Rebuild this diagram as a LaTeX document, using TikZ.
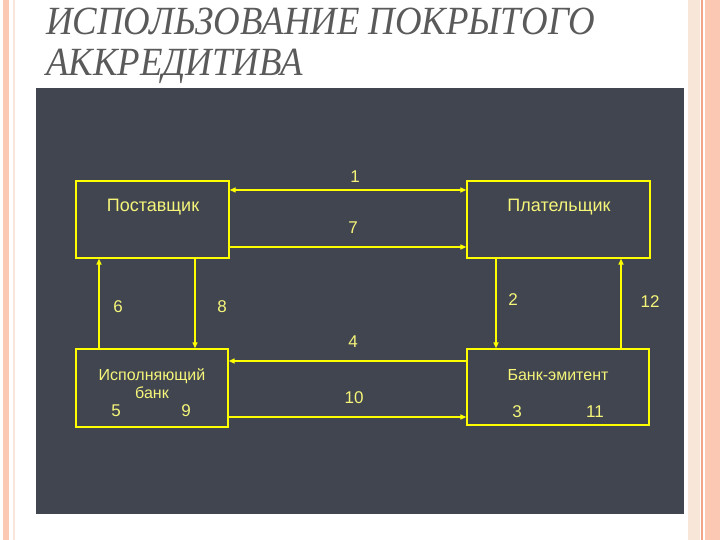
\documentclass[tikz,border=0pt]{standalone}
\usepackage{fontspec}
\setmainfont{Liberation Sans}
\newfontfamily\titlefont{Liberation Serif}
\usetikzlibrary{arrows.meta}
\definecolor{panel}{HTML}{41454F}
\definecolor{ylw}{HTML}{FFFF00}
\definecolor{txt}{HTML}{F5F57A}
\definecolor{pinkb}{HTML}{FBC8B4}
\definecolor{orgl}{HTML}{F4A488}
\definecolor{beig}{HTML}{F8E6D8}
\definecolor{ttl}{HTML}{5A5A5A}
\tikzset{
  box/.style={draw=ylw, line width=1.3pt, minimum width=#1, inner sep=0pt},
  lblbig/.style={text=txt, font=\fontsize{18}{20}\selectfont, inner sep=0pt},
  lbl/.style={text=txt, font=\fontsize{16}{17}\selectfont, inner sep=0pt},
  num/.style={text=txt, font=\fontsize{17}{19}\selectfont, inner sep=0pt},
  arr/.style={draw=ylw, line width=1.2pt, -{Triangle[length=6pt,width=5pt]}},
  arrthick/.style={draw=ylw, line width=2pt, -{Triangle[length=6pt,width=5pt]}},
  ttlst/.style={text=ttl, font=\titlefont\itshape\fontsize{40}{44}\selectfont, anchor=base west, inner sep=0pt}
}
\begin{document}
\begin{tikzpicture}[x=1pt,y=-1pt]
\useasboundingbox (0,0) rectangle (720,540);
\fill[white] (0,0) rectangle (720,540);
% borders
\fill[pinkb] (3,0) rectangle (9,540);
\fill[beig] (13,0) rectangle (15,540);
\fill[beig] (688,0) rectangle (700,540);
\fill[orgl] (701,0) rectangle (703,540);
\fill[pinkb] (705,0) rectangle (720,540);
% title
\node[ttlst] (t1) at (46,35) {\scalebox{0.92}[1]{ИСПОЛЬЗОВАНИЕ ПОКРЫТОГО}};
\node[ttlst] (t2) at (46,76) {\scalebox{0.92}[1]{АККРЕДИТИВА}};
% panel
\fill[panel] (36,88) rectangle (684,514);
% boxes
\node[box=153pt, minimum height=77pt] (p) at (152.5,219.5) {};
\node[box=183pt, minimum height=77pt] (q) at (558.5,219.5) {};
\node[box=152pt, minimum height=78pt] (r) at (152,388) {};
\node[box=182pt, minimum height=76pt] (s) at (558,387) {};
% texts
\node[lblbig] (tp) at (153,207) {Поставщик};
\node[lblbig] (tq) at (559,207) {Плательщик};
\node[lbl] (tr1) at (152,376) {Исполняющий};
\node[lbl] (tr2) at (152,393) {банк};
\node[lbl] (ts) at (558,375) {Банк-эмитент};
\node[num] (n5) at (116,411) {5};
\node[num] (n9) at (186,411) {9};
\node[num] (n3) at (517,412) {3};
\node[num] (n11) at (595,412) {11};
% levels
\coordinate (y1) at (0,190);
\coordinate (y7) at (0,247);
\coordinate (y4) at (0,361);
\coordinate (y10) at (0,417);
\coordinate (x6) at (99,0);
\coordinate (x8) at (195,0);
\coordinate (x2) at (496,0);
\coordinate (x12) at (621,0);
% connectors
\draw[arr, {Triangle[length=6pt,width=5pt]}-{Triangle[length=6pt,width=5pt]}] (p.east |- y1) -- (q.west |- y1);
\draw[arr] (p.east |- y7) -- (q.west |- y7);
\draw[arrthick] (s.west |- y4) -- (r.east |- y4);
\draw[arr] (r.east |- y10) -- (s.west |- y10);
\draw[arrthick] (r.north -| x6) -- (p.south -| x6);
\draw[arr] (p.south -| x8) -- (r.north -| x8);
\draw[arrthick] (q.south -| x2) -- (s.north -| x2);
\draw[arrthick] (s.north -| x12) -- (q.south -| x12);
% numbers
\node[num] (n1) at (355,177) {1};
\node[num] (n7) at (353,228) {7};
\node[num] (n4) at (353,342) {4};
\node[num] (n10) at (354,398) {10};
\node[num] (n6) at (118,307) {6};
\node[num] (n8) at (222,307) {8};
\node[num] (n2) at (513,300) {2};
\node[num] (n12) at (650,302) {12};
\end{tikzpicture}
\end{document}
